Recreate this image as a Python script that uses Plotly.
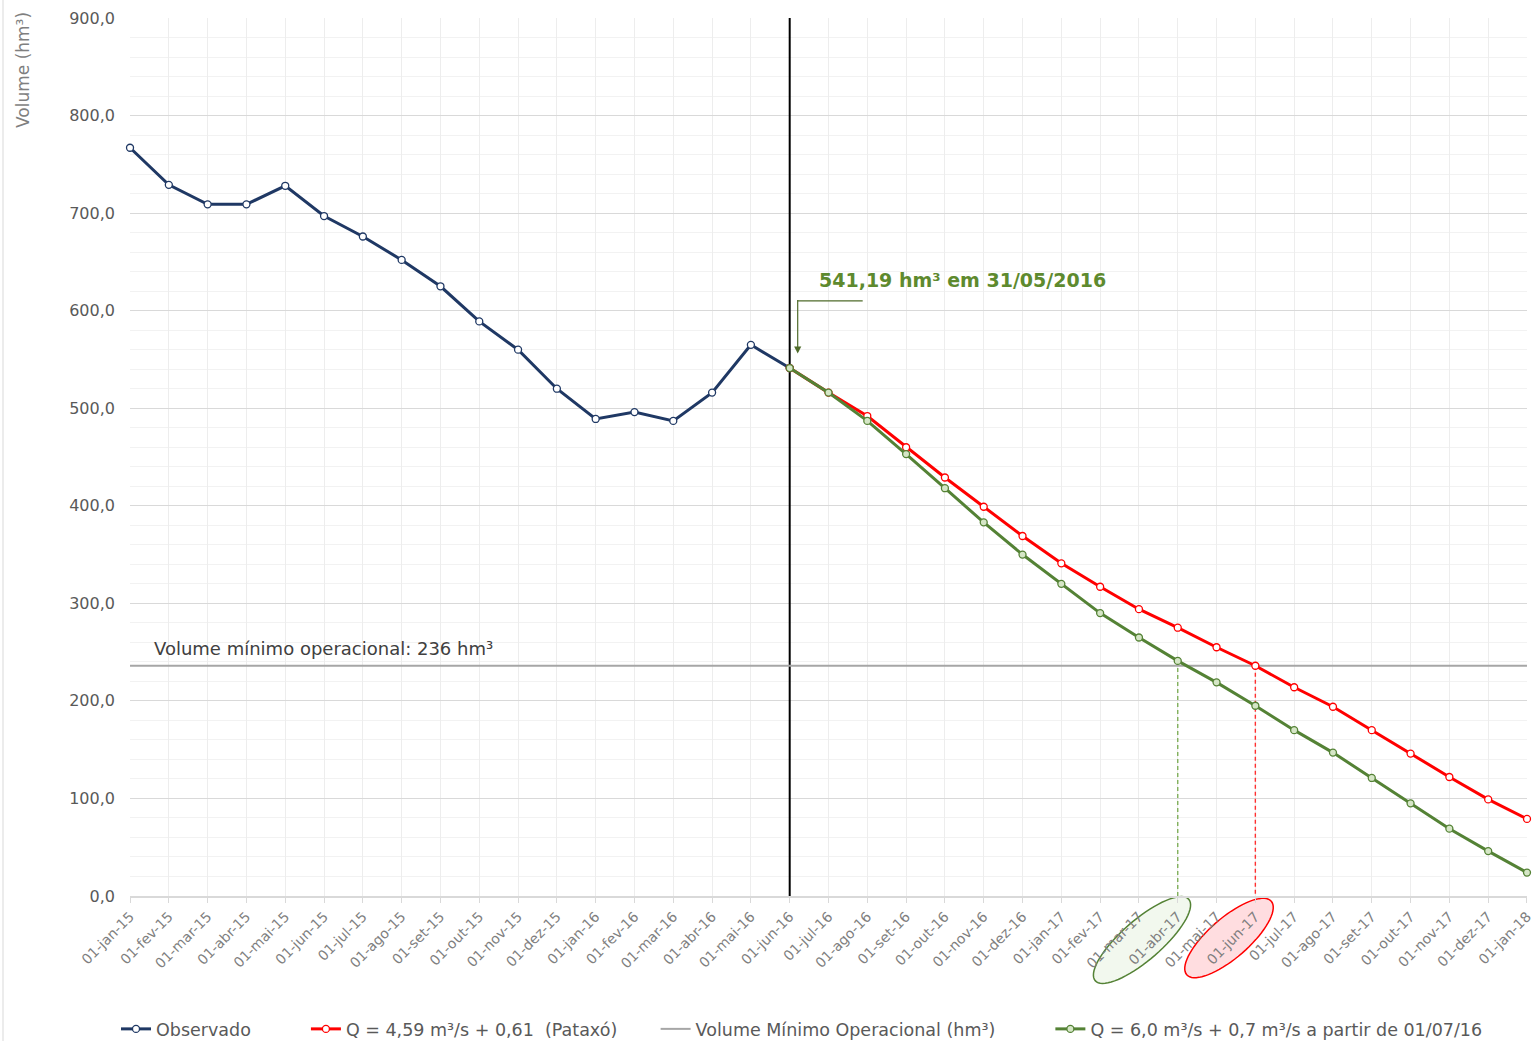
import math
import plotly.graph_objects as go

# ---------------- data ----------------
meses = ["jan", "fev", "mar", "abr", "mai", "jun", "jul", "ago", "set", "out", "nov", "dez"]
tick_labels = [f"01-{meses[i % 12]}-{15 + i // 12}" for i in range(37)]  # 01-jan-15 .. 01-jan-18

obs_labels = tick_labels[0:18]
observado = [767, 729, 709, 709, 728, 697, 676, 652, 625, 589, 560, 520, 489, 496, 487, 516, 565, 541.19]

prev_labels = tick_labels[17:37]
pataxo = [541.19, 516, 492, 460, 429, 399, 369, 341, 317, 294, 275, 255, 236, 214, 194, 170, 146, 122, 99, 79]
cenario_verde = [541.19, 516, 487, 453, 418, 383, 350, 320, 290, 265, 241, 219, 195, 170, 147, 121, 95, 69, 46, 24]

vol_minimo = 236
marco_label = "01-jun-16"
cruz_verde_label = "01-abr-17"
cruz_vermelha_label = "01-jun-17"

idx = {lab: i for i, lab in enumerate(tick_labels)}

# ---------------- layout constants ----------------
W_FIG, H_FIG = 1532, 1041
PLOT_L, PLOT_R, PLOT_T, PLOT_B = 130, 1527, 18, 896   # plot area in page pixels
ML, MT = PLOT_L, PLOT_T
MR = W_FIG - PLOT_R
MB = H_FIG - PLOT_B
PW = PLOT_R - PLOT_L
PH = PLOT_B - PLOT_T

FONT = "DejaVu Sans, sans-serif"
NAVY = "#1F3864"
RED = "#FF0000"
GREEN = "#548235"
GRAY = "#A6A6A6"
PAD = "\u00a0"


def px_to_paper(px, py):
    return (px - PLOT_L) / PW, (PLOT_B - py) / PH


def ellipse_path(cx, cy, a, b, theta_deg, n=72):
    t = math.radians(theta_deg)
    pts = []
    for k in range(n):
        s = 2 * math.pi * k / n
        ux, uy = a * math.cos(s), b * math.sin(s)
        px = cx + ux * math.cos(t) - uy * math.sin(t)
        py = cy - (ux * math.sin(t) + uy * math.cos(t))
        pts.append(px_to_paper(px, py))
    return "M " + " L ".join(f"{x:.5f},{y:.5f}" for x, y in pts) + " Z"


fig = go.Figure()

# vertical black divider at jun-16 (drawn first so markers sit on top)
fig.add_trace(go.Scatter(
    x=[idx[marco_label], idx[marco_label]], y=[0, 900], mode="lines",
    line=dict(color="black", width=2), showlegend=False, hoverinfo="skip", cliponaxis=False,
))

fig.add_trace(go.Scatter(
    x=[idx[l] for l in obs_labels], y=observado, name="Observado" + PAD * 9,
    mode="lines+markers", line=dict(color=NAVY, width=3),
    marker=dict(symbol="circle", size=7, color="white", line=dict(color=NAVY, width=1.3)),
    cliponaxis=False, legendrank=1,
))

# dashed drop lines
iv = idx[cruz_verde_label]
ir = idx[cruz_vermelha_label]
fig.add_trace(go.Scatter(
    x=[iv, iv], y=[cenario_verde[prev_labels.index(cruz_verde_label)], 0],
    mode="lines", line=dict(color="#7FAF5A", width=1.4, dash="4px,3px"),
    showlegend=False, hoverinfo="skip",
))
fig.add_trace(go.Scatter(
    x=[ir, ir], y=[pataxo[prev_labels.index(cruz_vermelha_label)], 0],
    mode="lines", line=dict(color="#FF3030", width=1.4, dash="4px,3px"),
    showlegend=False, hoverinfo="skip",
))

fig.add_trace(go.Scatter(
    x=[0, len(tick_labels) - 1], y=[vol_minimo, vol_minimo], name="Volume Mínimo Operacional (hm³)" + PAD * 9,
    mode="lines", line=dict(color=GRAY, width=2), cliponaxis=False, legendrank=3,
))

fig.add_trace(go.Scatter(
    x=[idx[l] for l in prev_labels], y=pataxo, name="Q = 4,59 m³/s + 0,61  (Pataxó)" + PAD * 6,
    mode="lines+markers", line=dict(color=RED, width=3),
    marker=dict(symbol="circle", size=7, color="white", line=dict(color=RED, width=1.3)),
    cliponaxis=False, legendrank=2,
))

fig.add_trace(go.Scatter(
    x=[idx[l] for l in prev_labels], y=cenario_verde, name="Q = 6,0 m³/s + 0,7 m³/s a partir de 01/07/16",
    mode="lines+markers", line=dict(color=GREEN, width=3),
    marker=dict(symbol="circle", size=7, color="#D5E6C6", line=dict(color=GREEN, width=1.3)),
    cliponaxis=False, legendrank=4,
))

shapes = []
# elbow of the arrow
shapes.append(dict(type="line", xref="x", yref="y",
                   x0=idx[marco_label] + 8 / (PW / 36), x1=idx[marco_label] + 73 / (PW / 36),
                   y0=610, y1=610, line=dict(color="#4F6B2A", width=1.2)))
# ellipses highlighting the crossing dates
shapes.append(dict(type="path", xref="paper", yref="paper", layer="below",
                   path=ellipse_path(1142, 940, 62, 20, 41),
                   fillcolor="rgba(226,239,218,0.45)", line=dict(color=GREEN, width=1.5)))
shapes.append(dict(type="path", xref="paper", yref="paper", layer="below",
                   path=ellipse_path(1229, 938, 56, 20, 41),
                   fillcolor="rgba(255,120,130,0.25)", line=dict(color=RED, width=1.5)))
# chart frame line at the far left
fx, _ = px_to_paper(3, 0)
shapes.append(dict(type="line", xref="paper", yref="paper", x0=fx, x1=fx,
                   y0=px_to_paper(0, 1041)[1], y1=px_to_paper(0, 0)[1],
                   line=dict(color="#D9D9D9", width=1)))

annotations = []
ytx, yty = px_to_paper(23, 70)
annotations.append(dict(text="Volume (hm³)", xref="paper", yref="paper", x=ytx, y=yty,
                        xanchor="center", yanchor="middle",
                        textangle=-90, showarrow=False, font=dict(family=FONT, size=17, color="#7F7F7F")))
annotations.append(dict(text="<b>541,19 hm³ em 31/05/2016</b>", xref="x", yref="y",
                        x=21.45, y=631, xanchor="center", yanchor="middle", showarrow=False,
                        font=dict(family=FONT, size=19, color="#5E8A2E")))
annotations.append(dict(text="", xref="x", yref="y", x=idx[marco_label], y=556, xshift=8,
                        showarrow=True, ax=0, ay=-55, arrowhead=2, arrowsize=1.2, arrowwidth=1.2,
                        arrowcolor="#4F6B2A"))
annotations.append(dict(text="Volume mínimo operacional: 236 hm³", xref="x", yref="y",
                        x=0.57, y=254, xanchor="left", yanchor="middle", showarrow=False,
                        font=dict(family=FONT, size=18, color="#404040")))

lgx, lgy = px_to_paper(116, 1029)

fig.update_layout(
    width=W_FIG, height=H_FIG,
    margin=dict(l=ML, r=MR, t=MT, b=MB, autoexpand=False),
    paper_bgcolor="white", plot_bgcolor="white",
    separators=",.",
    font=dict(family=FONT, color="#595959"),
    shapes=shapes, annotations=annotations,
    showlegend=True,
    legend=dict(orientation="h", x=lgx, xanchor="left", y=lgy, yanchor="middle",
                font=dict(family=FONT, size=17.5, color="#595959"), traceorder="normal",
                itemwidth=30),
    xaxis=dict(
        range=[-0.0005, 36.0005], tickmode="array", tickvals=list(range(37)), ticktext=tick_labels,
        tickangle=-45, tickfont=dict(family=FONT, size=14, color="#7F7F7F"),
        ticklabeloverflow="allow",
        showgrid=True, gridcolor="#EDEDED", gridwidth=1, automargin=False,
        showline=True, linecolor="#D9D9D9", linewidth=2,
        ticks="outside", ticklen=5, tickcolor="#D9D9D9", zeroline=False,
    ),
    yaxis=dict(
        range=[0, 900], dtick=100, tickformat=".1f", automargin=False,
        tickfont=dict(family=FONT, size=16, color="#595959"),
        showgrid=True, gridcolor="#D9D9D9", gridwidth=1, zeroline=False,
        minor=dict(dtick=20, showgrid=True, gridcolor="#F2F2F2", gridwidth=1),
        ticklabelstandoff=14,
    ),
)

fig.write_html(
    "out.html",
    config={"displayModeBar": False},
    post_script="document.body.style.margin='0';document.body.style.overflow='hidden';",
)
